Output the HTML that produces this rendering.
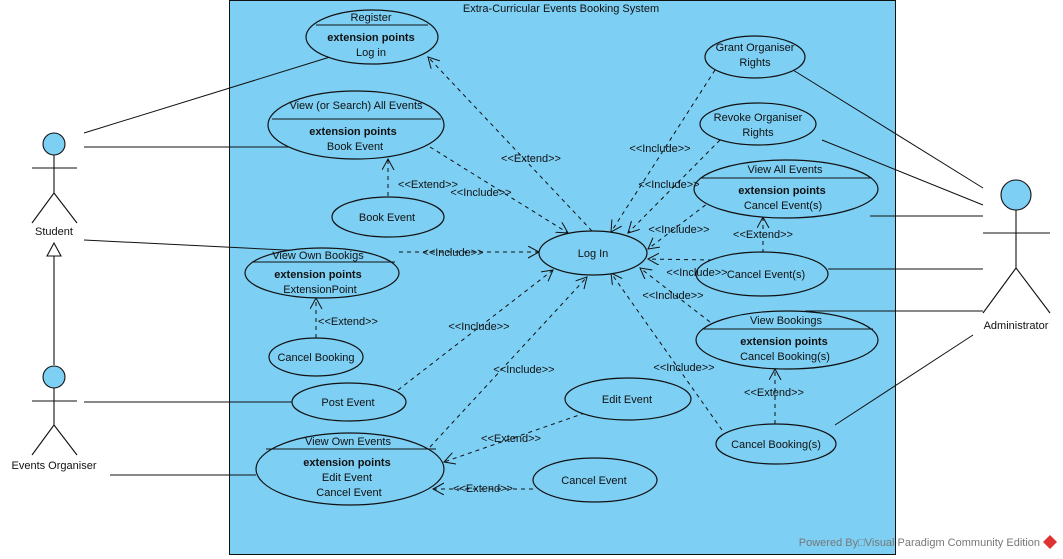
<!DOCTYPE html>
<html><head><meta charset="utf-8"><style>
body{margin:0;background:#fff}
svg{display:block}
text{font-family:"Liberation Sans",sans-serif;font-size:11px;fill:#111;text-anchor:middle}
.b{font-weight:bold}
.d{stroke:#111;stroke-dasharray:4,4;fill:none;marker-end:url(#a)}
.s{stroke:#111;fill:none}
ellipse{fill:#7dcff4;stroke:#111;stroke-width:1.2}
</style></head><body>
<svg width="1063" height="559" viewBox="0 0 1063 559">
<defs><marker id="a" markerWidth="14" markerHeight="14" refX="11" refY="6" orient="auto" markerUnits="userSpaceOnUse"><path d="M0,0 L11,6 L0,12" fill="none" stroke="#111"/></marker></defs>
<rect x="229.5" y="0.5" width="666" height="554" fill="#7dcff4" stroke="#111"/>
<text x="561" y="12">Extra-Curricular Events Booking System</text>

<path class="s" d="M84,133 L330,57 M84,147 L290,147 M84,240 L305,251 M84,402 L292,402 M110,475 L256,475 M793,70 L983,188 M822,140 L983,205 M870,216 L983,216 M828,269 L983,269 M805,311 L983,311 M835,425 L973,335"/>

<path class="d" d="M592,231 L428,57"/>
<path class="d" d="M430,147 L568,233"/>
<path class="d" d="M388,196 L388,159"/>
<path class="d" d="M399,252 L539,252"/>
<path class="d" d="M316,338 L316,298"/>
<path class="d" d="M398,390 L553,270"/>
<path class="d" d="M430,447 L587,277"/>
<path class="d" d="M585,413 L444,462"/>
<path class="d" d="M533,489 L433,489"/>
<path class="d" d="M715,70 L611,232"/>
<path class="d" d="M720,140 L628,233"/>
<path class="d" d="M712,200 L648,249"/>
<path class="d" d="M712,260 L648,259"/>
<path class="d" d="M763,253 L763,217"/>
<path class="d" d="M710,322 L640,268"/>
<path class="d" d="M722,430 L611,273"/>
<path class="d" d="M775,424 L775,369"/>

<ellipse cx="372" cy="37" rx="66" ry="27"/><path class="s" d="M316,25 L428,25"/>
<text x="371" y="21">Register</text><text x="371" y="41" class="b">extension points</text><text x="371" y="56">Log in</text>
<ellipse cx="356" cy="125" rx="88" ry="34"/><path class="s" d="M272,119 L441,119"/>
<text x="356" y="109">View (or Search) All Events</text><text x="353" y="135" class="b">extension points</text><text x="355" y="150">Book Event</text>
<ellipse cx="388" cy="217" rx="56" ry="20"/><text x="387" y="221">Book Event</text>
<ellipse cx="322" cy="273" rx="77" ry="25"/><path class="s" d="M252,262 L395,262"/>
<text x="318" y="259">View Own Bookigs</text><text x="318" y="278" class="b">extension points</text><text x="320" y="293">ExtensionPoint</text>
<ellipse cx="316" cy="357" rx="47" ry="19"/><text x="316" y="361">Cancel Booking</text>
<ellipse cx="349" cy="402" rx="57" ry="19"/><text x="348" y="406">Post Event</text>
<ellipse cx="350" cy="469" rx="94" ry="36"/><path class="s" d="M266,449 L436,449"/>
<text x="348" y="445">View Own Events</text><text x="347" y="466" class="b">extension points</text><text x="347" y="481">Edit Event</text><text x="349" y="496">Cancel Event</text>
<ellipse cx="628" cy="399" rx="63" ry="21"/><text x="627" y="403">Edit Event</text>
<ellipse cx="595" cy="480" rx="62" ry="22"/><text x="594" y="484">Cancel Event</text>
<ellipse cx="593" cy="253" rx="54" ry="22"/><text x="593" y="257">Log In</text>
<ellipse cx="755" cy="57" rx="50" ry="21"/><text x="755" y="51">Grant Organiser</text><text x="755" y="66">Rights</text>
<ellipse cx="758" cy="124" rx="58" ry="21"/><text x="758" y="121">Revoke Organiser</text><text x="758" y="136">Rights</text>
<ellipse cx="786" cy="189" rx="92" ry="29"/><path class="s" d="M700,178 L872,178"/>
<text x="785" y="173">View All Events</text><text x="782" y="194" class="b">extension points</text><text x="783" y="209">Cancel Event(s)</text>
<ellipse cx="762" cy="274" rx="66" ry="22"/><text x="766" y="278">Cancel Event(s)</text>
<ellipse cx="787" cy="340" rx="91" ry="29"/><path class="s" d="M702,329 L873,329"/>
<text x="786" y="324">View Bookings</text><text x="784" y="345" class="b">extension points</text><text x="785" y="360">Cancel Booking(s)</text>
<ellipse cx="776" cy="444" rx="60" ry="20"/><text x="776" y="448">Cancel Booking(s)</text>

<text x="531" y="162">&lt;&lt;Extend&gt;&gt;</text>
<text x="481" y="196">&lt;&lt;Include&gt;&gt;</text>
<text x="428" y="188">&lt;&lt;Extend&gt;&gt;</text>
<text x="453" y="256">&lt;&lt;Include&gt;&gt;</text>
<text x="348" y="325">&lt;&lt;Extend&gt;&gt;</text>
<text x="479" y="330">&lt;&lt;Include&gt;&gt;</text>
<text x="524" y="373">&lt;&lt;Include&gt;&gt;</text>
<text x="511" y="442">&lt;&lt;Extend&gt;&gt;</text>
<text x="483" y="492">&lt;&lt;Extend&gt;&gt;</text>
<text x="660" y="152">&lt;&lt;Include&gt;&gt;</text>
<text x="669" y="188">&lt;&lt;Include&gt;&gt;</text>
<text x="679" y="233">&lt;&lt;Include&gt;&gt;</text>
<text x="697" y="276">&lt;&lt;Include&gt;&gt;</text>
<text x="763" y="238">&lt;&lt;Extend&gt;&gt;</text>
<text x="673" y="299">&lt;&lt;Include&gt;&gt;</text>
<text x="684" y="371">&lt;&lt;Include&gt;&gt;</text>
<text x="774" y="396">&lt;&lt;Extend&gt;&gt;</text>

<g class="s" stroke-width="1.1">
<circle cx="54" cy="144" r="11" fill="#7dcff4" stroke="#111"/>
<path d="M54,155 L54,193 M32,168 L77,168 M54,193 L32,223 M54,193 L77,223"/>
<path d="M54,365 L54,252"/>
<path d="M47,256 L54,243 L61,256 Z" fill="#fff"/>
<circle cx="54" cy="377" r="11" fill="#7dcff4" stroke="#111"/>
<path d="M54,388 L54,425 M32,401 L77,401 M54,425 L32,455 M54,425 L77,455"/>
<circle cx="1016" cy="195" r="15" fill="#7dcff4" stroke="#111"/>
<path d="M1016,210 L1016,268 M983,233 L1050,233 M1016,268 L983,313 M1016,268 L1050,313"/>
</g>
<text x="54" y="235">Student</text>
<text x="54" y="469">Events Organiser</text>
<text x="1016" y="329">Administrator</text>

<text x="1040" y="546" style="fill:#777;font-size:11px;text-anchor:end">Powered By□Visual Paradigm Community Edition</text>
<path d="M1050,535 L1057,542 L1050,549 L1043,542 Z" fill="#d33"/>
</svg>
</body></html>
